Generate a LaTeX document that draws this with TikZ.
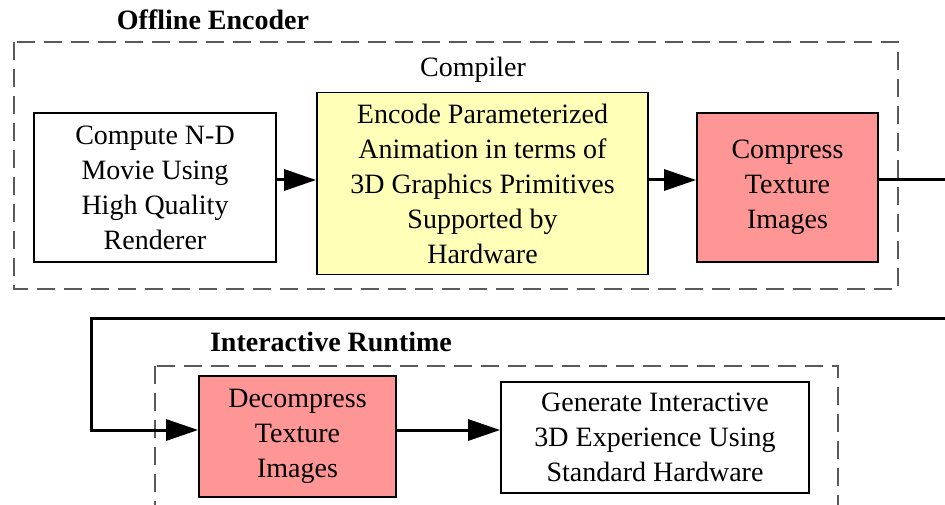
\documentclass[tikz,border=0pt]{standalone}
\usepackage{fontspec}
\setmainfont{Liberation Serif}
\usetikzlibrary{arrows.meta}
\definecolor{boxyellow}{RGB}{255,255,184}
\definecolor{boxpink}{RGB}{255,150,150}
\definecolor{dashgray}{RGB}{90,90,90}
\tikzset{
  box/.style={draw=black, line width=1.8pt, align=center, inner sep=0pt,
    font=\fontsize{28}{35}\selectfont},
  group/.style={draw=dashgray, line width=1.5pt, dash pattern=on 18pt off 9pt},
  title/.style={font=\fontsize{28}{35}\selectfont\bfseries, inner sep=0pt},
  sublabel/.style={font=\fontsize{28}{35}\selectfont, inner sep=0pt},
  arr/.style={line width=3pt, -{Triangle[length=32pt,width=21pt]}},
  flow/.style={line width=3pt}
}
\begin{document}
\begin{tikzpicture}[x=1pt,y=-1pt]
\useasboundingbox (0,0) rectangle (945,505);
\clip (0,0) rectangle (945,505);
% groups
\draw[group] (14,42) rectangle (898,289);
\draw[group] (155,366) rectangle (838,530);
\node[title] (offl) at (213,20) {Offline Encoder};
\node[sublabel] (comp) at (473,70) {Compiler};
\node[title] (inter) at (331,342) {Interactive Runtime};
% boxes
\node[box, fill=white, minimum width=242pt, minimum height=149pt] (b1) at (155,187.5)
  {Compute N-D\\Movie Using\\High Quality\\Renderer};
\node[box, fill=boxyellow, minimum width=331pt, minimum height=182pt] (b2) at (482.5,183.5)
  {Encode Parameterized\\Animation in terms of\\3D Graphics Primitives\\Supported by\\Hardware};
\node[box, fill=boxpink, minimum width=181pt, minimum height=149pt] (b3) at (787.5,187.5)
  {Compress\\Texture\\Images};
\node[box, fill=boxpink, minimum width=197pt, minimum height=121pt] (b4) at (297.5,436.5)
  {Decompress\\Texture\\Images};
\node[box, fill=white, minimum width=308pt, minimum height=111pt] (b5) at (655,437.5)
  {Generate Interactive\\3D Experience Using\\Standard Hardware};
% connectors
\coordinate (ya) at (0,180);
\coordinate (yb) at (0,430);
\coordinate (c1) at (970,180);
\coordinate (c2) at (970,318);
\coordinate (c3) at (91,318);
\coordinate (c4) at (91,430);
\draw[arr] (b1.east |- ya) -- (b2.west |- ya);
\draw[arr] (b2.east |- ya) -- (b3.west |- ya);
\draw[arr] (b3.east |- ya) -- (c1) -- (c2) -- (c3) -- (c4) -- (b4.west |- yb);
\draw[arr] (b4.east |- yb) -- (b5.west |- yb);
\end{tikzpicture}
\end{document}
